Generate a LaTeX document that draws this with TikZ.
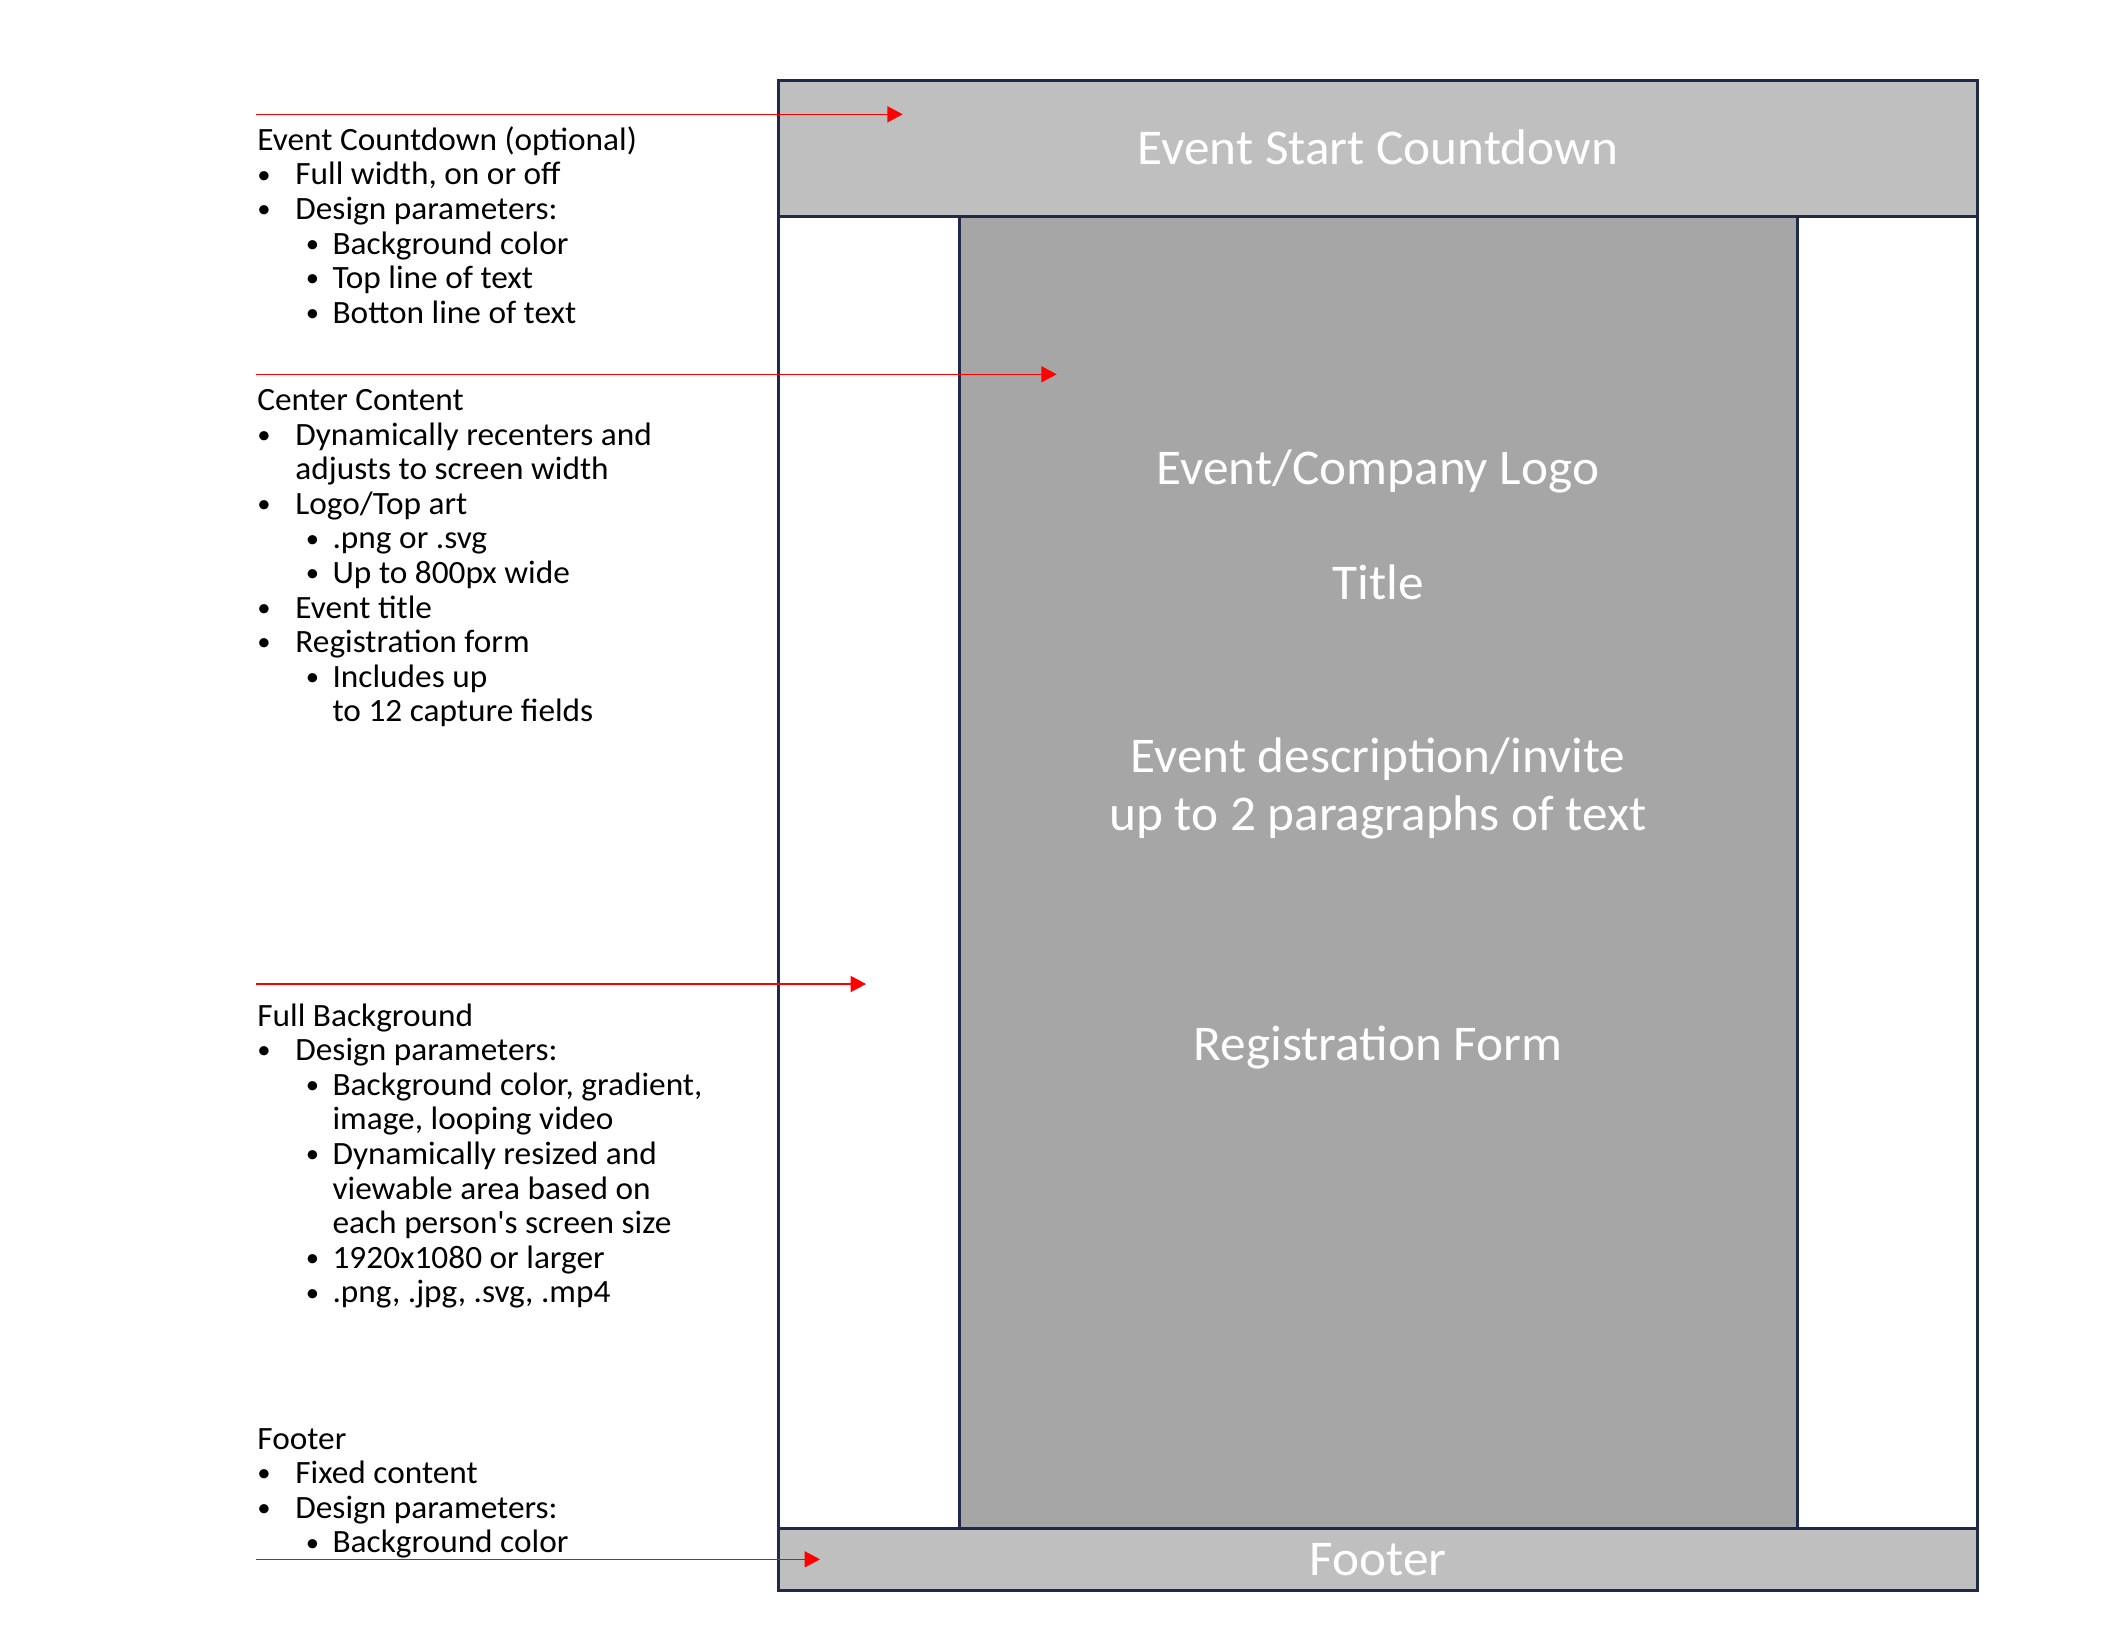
\documentclass[tikz,border=0pt]{standalone}
\usepackage{fontspec}
\setmainfont{Carlito}[FakeStretch=1.025]
\usetikzlibrary{arrows.meta}

\definecolor{FrameNavy}{HTML}{1F2A48}
\definecolor{BandGray}{HTML}{BFBFBF}
\definecolor{ColumnGray}{HTML}{A6A6A6}
\definecolor{PointerRed}{HTML}{FF0000}

% bullet lines of the side notes
\newcommand{\NoteDot}{\raisebox{0.9pt}{\scalebox{0.8}{•}}}
\newcommand{\NoteOne}[1]{\makebox[19pt][l]{\hspace*{0pt}\NoteDot}#1}
\newcommand{\NoteTwo}[1]{\hspace*{24.2pt}\makebox[13.4pt][l]{\NoteDot}#1}
\newcommand{\NoteOneMore}[1]{\hspace*{19pt}#1}
\newcommand{\NoteTwoMore}[1]{\hspace*{37.6pt}#1}
\newcommand{\NoteBox}[1]{\parbox[t]{270pt}{\raggedright #1}}

\begin{document}
\begin{tikzpicture}[
    x=0.5pt, y=-0.5pt,
    Band/.style={fill=BandGray},
    Column/.style={fill=ColumnGray},
    Edge/.style={draw=FrameNavy, line width=1.5pt},
    Note/.style={anchor=base west, inner sep=0pt, text=black,
        font=\fontsize{16.25pt}{17.3pt}\selectfont},
    Label/.style={anchor=base, inner sep=0pt, text=white,
        font=\fontsize{25pt}{28.85pt}\selectfont},
    Pointer/.style={draw=PointerRed, line width=0.65pt,
        -{Triangle[length=7.65pt, width=8pt]}},
]
    \useasboundingbox (0,0) rectangle (2115,1634);

    % page layout
    \fill[Band] (778.5,80.7) rectangle (1977.8,216.3);
    \fill[Column] (959.3,216.3) rectangle (1797,1528);
    \fill[Band] (778.5,1528) rectangle (1977.8,1590.7);
    \draw[Edge] (959.3,216.3) -- (959.3,1528);
    \draw[Edge] (1797,216.3) -- (1797,1528);
    \draw[Edge] (778.5,216.3) -- (1977.8,216.3);
    \draw[Edge] (778.5,1528) -- (1977.8,1528);
    \draw[Edge] (778.5,80.7) rectangle (1977.8,1590.7);

    % labels inside the page
    \node[Label] (countdown) at (1378,164) {Event Start Countdown};
    \node[Label] (logo) at (1378,484.5) {Event/Company Logo};
    \node[Label] (title) at (1378,599) {Title};
    \node[Label] (invite) at (1378,772.3) {\parbox[t]{500pt}{\centering
        Event description/invite\\up to 2 paragraphs of text}};
    \node[Label] (regform) at (1378,1060.8) {Registration Form};
    \node[Label] (footer) at (1378,1575) {Footer};

    % side notes
    \node[Note] (countdownNote) at (257,150.2) {\NoteBox{%
        Event Countdown (optional)\\
        \NoteOne{Full width, on or off}\\
        \NoteOne{Design parameters:}\\
        \NoteTwo{Background color}\\
        \NoteTwo{Top line of text}\\
        \NoteTwo{Botton line of text}}};
    \node[Note] (centerNote) at (257,410.5) {\NoteBox{%
        Center Content\\
        \NoteOne{Dynamically recenters and}\\
        \NoteOneMore{adjusts to screen width}\\
        \NoteOne{Logo/Top art}\\
        \NoteTwo{.png or .svg}\\
        \NoteTwo{Up to 800px wide}\\
        \NoteOne{Event title}\\
        \NoteOne{Registration form}\\
        \NoteTwo{Includes up}\\
        \NoteTwoMore{to 12 capture fields}}};
    \node[Note] (backgroundNote) at (257,1026) {\NoteBox{%
        Full Background\\
        \NoteOne{Design parameters:}\\
        \NoteTwo{Background color, gradient,}\\
        \NoteTwoMore{image, looping video}\\
        \NoteTwo{Dynamically resized and}\\
        \NoteTwoMore{viewable area based on}\\
        \NoteTwoMore{each person\textquotesingle s screen size}\\
        \NoteTwo{1920x1080 or larger}\\
        \NoteTwo{.png, .jpg, .svg, .mp4}}};
    \node[Note] (footerNote) at (257,1449) {\NoteBox{%
        Footer\\
        \NoteOne{Fixed content}\\
        \NoteOne{Design parameters:}\\
        \NoteTwo{Background color}}};

    % pointers
    \coordinate (countdownFrom) at (255.5,114.3);
    \coordinate (countdownTo) at (902.7,114.3);
    \coordinate (centerFrom) at (255.5,374.3);
    \coordinate (centerTo) at (1056.7,374.3);
    \coordinate (backgroundFrom) at (255.5,984);
    \coordinate (backgroundTo) at (866,984);
    \coordinate (footerFrom) at (255.5,1559.3);
    \coordinate (footerTo) at (820,1559.3);
    \draw[Pointer] (countdownFrom) -- (countdownTo);
    \draw[Pointer] (centerFrom) -- (centerTo);
    \draw[Pointer] (backgroundFrom) -- (backgroundTo);
    \draw[Pointer] (footerFrom) -- (footerTo);
\end{tikzpicture}
\end{document}
